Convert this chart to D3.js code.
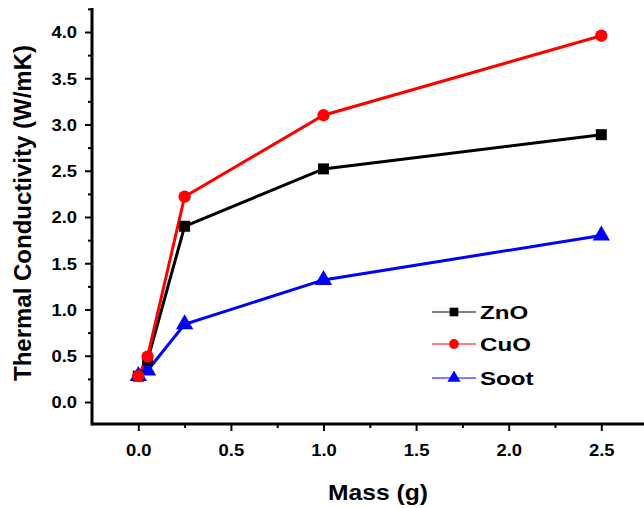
<!DOCTYPE html>
<html><head><meta charset="utf-8">
<script src="https://cdn.jsdelivr.net/npm/d3@7"></script>
<style>body{margin:0;background:#fff}svg{display:block}text{font-family:Arial,"Liberation Sans",sans-serif}</style>
</head><body><svg id="c" width="644" height="508"></svg>
<script>
const masses = [0, 0.05, 0.25, 1.0, 2.5];
const znO = [0.28, 0.45, 1.90, 2.52, 2.89];
const cuO = [0.28, 0.49, 2.22, 3.10, 3.96];
const soot = [0.28, 0.34, 0.84, 1.32, 1.80];
const seriesNames = ["ZnO", "CuO", "Soot"];
const xTicks = [0, 0.5, 1.0, 1.5, 2.0, 2.5];
const yTicks = [0, 0.5, 1.0, 1.5, 2.0, 2.5, 3.0, 3.5, 4.0];

const svg = d3.select("#c");
const x = d3.scaleLinear().domain([0, 2.5]).range([138.3, 601.3]);
const y = d3.scaleLinear().domain([0, 4]).range([402, 32]);
const x0 = 92, yb = 424, ytop = 8;
const sx = 1.15;

// x axis
const gx = svg.append("g").attr("transform", `translate(0,${yb})`);
gx.call(d3.axisBottom(x).tickValues(xTicks).tickFormat(d3.format(".1f")).tickSize(7));
gx.select(".domain").remove();
gx.selectAll(".tick text").attr("y", 32).attr("dy", null).attr("transform", `scale(${sx},1)`);
gx.append("line").attr("x1", x0).attr("x2", 644).attr("stroke", "#000").attr("stroke-width", 3);
const gxm = svg.append("g").attr("transform", `translate(0,${yb})`);
gxm.call(d3.axisBottom(x).tickValues(d3.range(0.25, 2.8, 0.5)).tickFormat("").tickSize(4));
gxm.select(".domain").remove();

// y axis
const gy = svg.append("g").attr("transform", `translate(${x0},0)`);
gy.call(d3.axisLeft(y).tickValues(yTicks).tickFormat(d3.format(".1f")).tickSize(7));
gy.select(".domain").remove();
gy.selectAll(".tick text").attr("x", -15 / sx).attr("dy", "0.36em").attr("transform", `scale(${sx},1)`);
gy.append("line").attr("y1", ytop).attr("y2", yb + 1.5).attr("stroke", "#000").attr("stroke-width", 3);
const gym = svg.append("g").attr("transform", `translate(${x0},0)`);
gym.call(d3.axisLeft(y).tickValues(d3.range(0.25, 4.3, 0.5)).tickFormat("").tickSize(4));
gym.select(".domain").remove();

svg.selectAll(".tick line").attr("stroke", "#000").attr("stroke-width", 2);
svg.selectAll(".tick text").attr("font-size", 16).attr("font-weight", "bold").attr("fill", "#000");

// titles
svg.append("text").attr("transform", "translate(378,500) scale(1.12,1)").attr("text-anchor", "middle")
  .attr("font-size", 22).attr("font-weight", "bold").text("Mass (g)");
svg.append("text").attr("transform", "translate(31,213) rotate(-90)").attr("text-anchor", "middle")
  .attr("font-size", 24).attr("font-weight", "bold").text("Thermal Conductivity (W/mK)");

const data = [
  {name: seriesNames[0], vals: znO, color: "#000000", shape: d3.symbolSquare, size: 121},
  {name: seriesNames[1], vals: cuO, color: "#ff0000", shape: d3.symbolCircle, size: 120},
  {name: seriesNames[2], vals: soot, color: "#0000ff", shape: d3.symbolTriangle, size: 130}
];
const line = d3.line().x((d, i) => x(masses[i])).y(d => y(d));

[2, 0, 1].forEach(k => {
  const s = data[k];
  svg.append("path").attr("d", line(s.vals)).attr("fill", "none").attr("stroke", s.color).attr("stroke-width", 3);
});
[2, 0, 1].forEach(k => {
  const s = data[k];
  svg.selectAll(null).data(s.vals).enter().append("path")
    .attr("transform", (d, i) => `translate(${x(masses[i])},${y(d)})`)
    .attr("d", d3.symbol().type(s.shape).size(s.size)).attr("fill", s.color);
});

// legend
const ly = [312, 344, 378];
data.forEach((s, i) => {
  const g = svg.append("g").attr("transform", `translate(0,${ly[i]})`);
  g.append("line").attr("x1", 432).attr("x2", 476).attr("stroke", s.color).attr("stroke-width", 1);
  g.append("path").attr("transform", "translate(454,0)").attr("d", d3.symbol().type(s.shape).size(75)).attr("fill", s.color);
  g.append("text").attr("transform", "translate(480,6.5) scale(1.27,1)").attr("font-size", 19).attr("font-weight", "bold").text(s.name);
});
</script></body></html>
